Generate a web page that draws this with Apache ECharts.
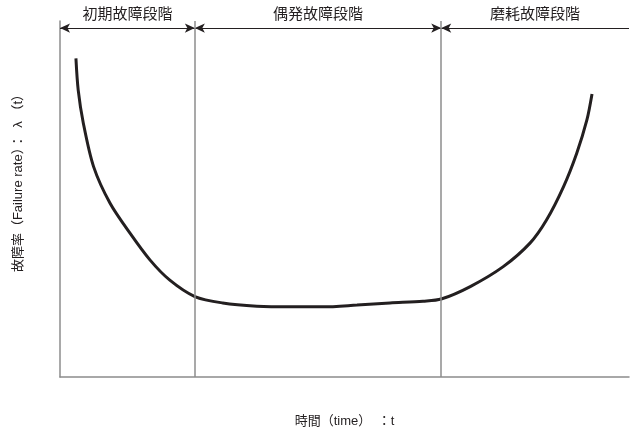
<!DOCTYPE html>
<html>
<head>
<meta charset="utf-8">
<script src="https://cdn.jsdelivr.net/npm/echarts@6/dist/echarts.min.js"></script>
<style>
  html, body { margin: 0; padding: 0; background: #fff; }
  #main { width: 637px; height: 434px; }
</style>
</head>
<body>
<div id="main"></div>
<script>
// bathtub curve (time 0-100, rate 0-100)
const curveTime = [2.8, 3.2, 4.1, 5.9, 8.8, 12.3, 15.8, 19.3, 23.7, 28.6, 34.6, 40.4, 46.2, 52.2, 58.0, 63.8, 67.0, 72.1, 77.9, 82.6, 85.5, 88.5, 90.8, 92.6, 93.5];
const curveRate = [89.5, 80.6, 71.3, 59.1, 48.8, 40.4, 32.9, 27.2, 22.6, 20.8, 19.9, 19.7, 19.7, 20.2, 20.8, 21.3, 21.9, 25.4, 31.0, 37.6, 44.1, 53.5, 62.8, 72.2, 79.5];

// phase boundaries on the time axis
const phaseBounds = [0, 23.7, 67.0, 100];
const phaseNames = ['初期故障段階', '偶発故障段階', '磨耗故障段階'];
const arrowLevel = 98;

const FONT = '"Liberation Sans", "Noto Sans CJK JP", sans-serif';
const chart = echarts.init(document.getElementById('main'));

const arrowLines = phaseNames.map((name, i) => {
  const last = i === phaseNames.length - 1;
  return [
    { coord: [phaseBounds[i], arrowLevel], symbol: 'arrow' },
    {
      coord: [phaseBounds[i + 1], arrowLevel],
      symbol: last ? 'none' : 'arrow',
      label: { show: true, formatter: name }
    }
  ];
});

const dividers = phaseBounds.slice(1, 3).map(x => [
  { coord: [x, 0], symbol: 'none' },
  { coord: [x, 100], symbol: 'none', label: { show: false } }
]);

chart.setOption({
  animation: false,
  grid: { left: 60, right: 8, top: 21, bottom: 57 },
  xAxis: {
    type: 'value',
    min: 0,
    max: 100,
    name: '時間（time）　：t',
    nameLocation: 'middle',
    nameGap: 38,
    nameTextStyle: { fontFamily: FONT, fontSize: 13, color: '#231f20' },
    axisLine: { show: true, lineStyle: { color: '#8c8c8c', width: 1.5 } },
    axisTick: { show: false },
    axisLabel: { show: false },
    splitLine: { show: false }
  },
  yAxis: {
    type: 'value',
    min: 0,
    max: 100,
    axisLine: { show: true, lineStyle: { color: '#8c8c8c', width: 1.5 } },
    axisTick: { show: false },
    axisLabel: { show: false },
    splitLine: { show: false }
  },
  graphic: [{
    type: 'text',
    x: 18,
    y: 180,
    rotation: Math.PI / 2,
    style: {
      text: '故障率（Failure rate）：  λ （t）',
      fontFamily: FONT,
      fontSize: 13,
      fill: '#231f20',
      align: 'center',
      verticalAlign: 'middle'
    }
  }],
  series: [
    {
      type: 'line',
      data: curveTime.map((t, i) => [t, curveRate[i]]),
      smooth: 0.3,
      showSymbol: false,
      lineStyle: { color: '#231f20', width: 3 },
      markLine: {
        silent: true,
        animation: false,
        symbolSize: [7, 10],
        lineStyle: { color: '#231f20', width: 1, type: 'solid' },
        label: {
          position: 'middle',
          distance: 6,
          fontFamily: FONT,
          fontSize: 15,
          color: '#231f20'
        },
        data: arrowLines
      }
    },
    {
      type: 'line',
      data: [],
      markLine: {
        silent: true,
        animation: false,
        symbol: 'none',
        lineStyle: { color: '#8c8c8c', width: 1.5, type: 'solid' },
        label: { show: false },
        data: dividers
      }
    }
  ]
});
</script>
</body>
</html>
